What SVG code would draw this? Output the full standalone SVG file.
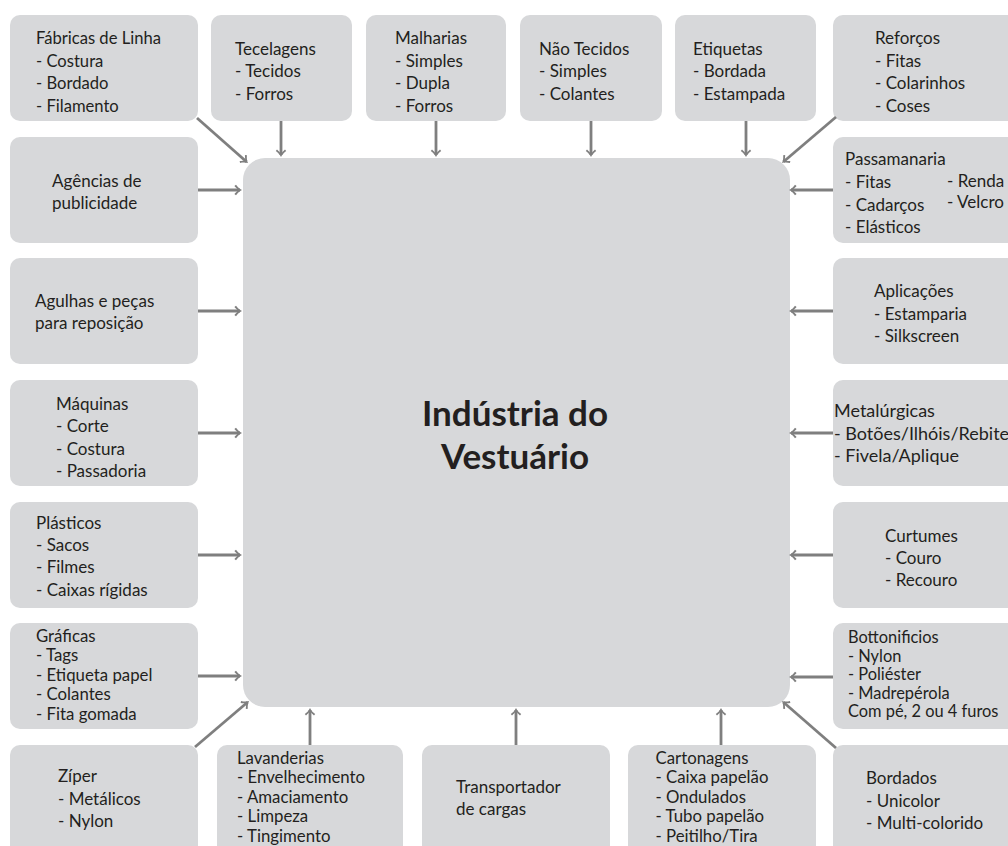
<svg xmlns="http://www.w3.org/2000/svg" width="1008" height="846" viewBox="0 0 1008 846">
<style>
.bg{fill:#ffffff}
.box{fill:#d7d8da}
.t{font-family:Lato,"Liberation Sans",sans-serif;font-size:17px;fill:#231f20}
.s{font-size:16.8px}
.c{font-family:Lato,"Liberation Sans",sans-serif;font-weight:bold;font-size:35px;fill:#231f20;text-anchor:middle}
.conn line{stroke:#7f7f7f;stroke-width:2.8;fill:none;marker-end:url(#ah)}
</style>
<defs>
<marker id="ah" markerUnits="userSpaceOnUse" viewBox="-7 -7 10 14" markerWidth="10" markerHeight="14" refX="0" refY="0" orient="auto">
<path d="M2,0 C-0.5,-1.2 -2.5,-3 -4,-5.2 L-5.6,-4 C-4,-2.2 -2.6,-1 -1.6,0 C-2.6,1 -4,2.2 -5.6,4 L-4,5.2 C-2.5,3 -0.5,1.2 2,0 Z" fill="#7f7f7f"/>
</marker>
</defs>
<rect class="bg" x="0" y="0" width="1008" height="846"/>

<g id="center">
<rect class="box" x="243" y="158" width="547" height="549" rx="22"/>
<text class="c" x="515" y="426">Indústria do</text>
<text class="c" x="515" y="469">Vestuário</text>
</g>

<g id="fabricas">
<rect class="box" x="10" y="15" width="188" height="106" rx="10"/>
<text class="t" style="font-size:16.6px"><tspan x="36" y="44">Fábricas de Linha</tspan><tspan x="36" y="66.5">- Costura</tspan><tspan x="36" y="89">- Bordado</tspan><tspan x="36" y="111.5">- Filamento</tspan></text>
</g>
<g id="tecelagens">
<rect class="box" x="211" y="15" width="141" height="106" rx="10"/>
<text class="t"><tspan x="235" y="55">Tecelagens</tspan><tspan x="235" y="77">- Tecidos</tspan><tspan x="235" y="99.5">- Forros</tspan></text>
</g>
<g id="malharias">
<rect class="box" x="366" y="15" width="140" height="106" rx="10"/>
<text class="t"><tspan x="395" y="44">Malharias</tspan><tspan x="395" y="66.5">- Simples</tspan><tspan x="395" y="89">- Dupla</tspan><tspan x="395" y="111.5">- Forros</tspan></text>
</g>
<g id="naotecidos">
<rect class="box" x="520" y="15" width="142" height="106" rx="10"/>
<text class="t"><tspan x="539" y="55">Não Tecidos</tspan><tspan x="539" y="77">- Simples</tspan><tspan x="539" y="99.5">- Colantes</tspan></text>
</g>
<g id="etiquetas">
<rect class="box" x="675" y="15" width="141" height="106" rx="10"/>
<text class="t"><tspan x="693" y="55">Etiquetas</tspan><tspan x="693" y="77">- Bordada</tspan><tspan x="693" y="99.5">- Estampada</tspan></text>
</g>
<g id="reforcos">
<rect class="box" x="833" y="15" width="190" height="106" rx="10"/>
<text class="t"><tspan x="875" y="44">Reforços</tspan><tspan x="875" y="66.5">- Fitas</tspan><tspan x="875" y="89">- Colarinhos</tspan><tspan x="875" y="111.5">- Coses</tspan></text>
</g>

<g id="agencias">
<rect class="box" x="10" y="137" width="188" height="106" rx="10"/>
<text class="t"><tspan x="52" y="187">Agências de</tspan><tspan x="52" y="208.5">publicidade</tspan></text>
</g>
<g id="passamanaria">
<rect class="box" x="833" y="137" width="190" height="106" rx="10"/>
<text class="t"><tspan x="845" y="165">Passamanaria</tspan><tspan x="845" y="188">- Fitas</tspan><tspan x="845" y="211">- Cadarços</tspan><tspan x="845" y="233">- Elásticos</tspan></text>
<text class="t"><tspan x="947" y="186.5">- Renda</tspan><tspan x="947" y="208">- Velcro</tspan></text>
</g>

<g id="agulhas">
<rect class="box" x="10" y="258" width="188" height="106" rx="10"/>
<text class="t"><tspan x="35" y="307">Agulhas e peças</tspan><tspan x="35" y="329">para reposição</tspan></text>
</g>
<g id="aplicacoes">
<rect class="box" x="833" y="258" width="190" height="106" rx="10"/>
<text class="t"><tspan x="874" y="297">Aplicações</tspan><tspan x="874" y="319.5">- Estamparia</tspan><tspan x="874" y="342">- Silkscreen</tspan></text>
</g>

<g id="maquinas">
<rect class="box" x="10" y="380" width="188" height="106" rx="10"/>
<text class="t"><tspan x="56" y="410">Máquinas</tspan><tspan x="56" y="432">- Corte</tspan><tspan x="56" y="454.5">- Costura</tspan><tspan x="56" y="477">- Passadoria</tspan></text>
</g>
<g id="metalurgicas">
<rect class="box" x="833" y="380" width="190" height="106" rx="10"/>
<text class="t" style="font-size:18px"><tspan x="834" y="417">Metalúrgicas</tspan><tspan x="834" y="440">- Botões/Ilhóis/Rebite</tspan><tspan x="834" y="462">- Fivela/Aplique</tspan></text>
</g>

<g id="plasticos">
<rect class="box" x="10" y="502" width="188" height="106" rx="10"/>
<text class="t"><tspan x="36" y="529">Plásticos</tspan><tspan x="36" y="551">- Sacos</tspan><tspan x="36" y="573">- Filmes</tspan><tspan x="36" y="595.5">- Caixas rígidas</tspan></text>
</g>
<g id="curtumes">
<rect class="box" x="833" y="502" width="190" height="106" rx="10"/>
<text class="t"><tspan x="885" y="541.5">Curtumes</tspan><tspan x="885" y="563.5">- Couro</tspan><tspan x="885" y="586">- Recouro</tspan></text>
</g>

<g id="graficas">
<rect class="box" x="10" y="623" width="188" height="106" rx="10"/>
<text class="t s"><tspan x="36" y="641.5">Gráficas</tspan><tspan x="36" y="661">- Tags</tspan><tspan x="36" y="680.5">- Etiqueta papel</tspan><tspan x="36" y="700">- Colantes</tspan><tspan x="36" y="719.5">- Fita gomada</tspan></text>
</g>
<g id="bottonificios">
<rect class="box" x="833" y="623" width="190" height="106" rx="10"/>
<text class="t s" style="font-size:16.4px"><tspan x="848" y="643">Bottonificios</tspan><tspan x="848" y="661.5">- Nylon</tspan><tspan x="848" y="680">- Poliéster</tspan><tspan x="848" y="698.5">- Madrepérola</tspan><tspan x="848" y="717">Com pé, 2 ou 4 furos</tspan></text>
</g>

<g id="ziper">
<rect class="box" x="10" y="745" width="188" height="120" rx="10"/>
<text class="t"><tspan x="58" y="782">Zíper</tspan><tspan x="58" y="804.5">- Metálicos</tspan><tspan x="58" y="827">- Nylon</tspan></text>
</g>
<g id="lavanderias">
<rect class="box" x="217" y="745" width="186" height="120" rx="10"/>
<text class="t s"><tspan x="237" y="763.5">Lavanderias</tspan><tspan x="237" y="783">- Envelhecimento</tspan><tspan x="237" y="802.5">- Amaciamento</tspan><tspan x="237" y="822">- Limpeza</tspan><tspan x="237" y="841.5">- Tingimento</tspan></text>
</g>
<g id="transportador">
<rect class="box" x="422" y="745" width="188" height="120" rx="10"/>
<text class="t"><tspan x="456" y="792.5">Transportador</tspan><tspan x="456" y="815">de cargas</tspan></text>
</g>
<g id="cartonagens">
<rect class="box" x="628" y="745" width="188" height="120" rx="10"/>
<text class="t s"><tspan x="655.5" y="763.5">Cartonagens</tspan><tspan x="655.5" y="783">- Caixa papelão</tspan><tspan x="655.5" y="802.5">- Ondulados</tspan><tspan x="655.5" y="822">- Tubo papelão</tspan><tspan x="655.5" y="841.5">- Peitilho/Tira</tspan></text>
</g>
<g id="bordados">
<rect class="box" x="833" y="745" width="190" height="120" rx="10"/>
<text class="t"><tspan x="866" y="784">Bordados</tspan><tspan x="866" y="806.5">- Unicolor</tspan><tspan x="866" y="829">- Multi-colorido</tspan></text>
</g>

<g id="connectors" class="conn">
<line x1="281" y1="121" x2="281" y2="155"/>
<line x1="436" y1="121" x2="436" y2="155"/>
<line x1="591" y1="121" x2="591" y2="155"/>
<line x1="746" y1="121" x2="746" y2="155"/>
<line x1="197" y1="118" x2="246.5" y2="161.7"/>
<line x1="836" y1="117" x2="783.5" y2="161.7"/>
<line x1="195" y1="747" x2="247.5" y2="702.3"/>
<line x1="836" y1="748" x2="783.5" y2="702.3"/>
<line x1="198" y1="190" x2="240" y2="190"/>
<line x1="198" y1="311" x2="240" y2="311"/>
<line x1="198" y1="433" x2="240" y2="433"/>
<line x1="198" y1="555" x2="240" y2="555"/>
<line x1="198" y1="676" x2="240" y2="676"/>
<line x1="833" y1="190" x2="791" y2="190"/>
<line x1="833" y1="311" x2="791" y2="311"/>
<line x1="833" y1="433" x2="791" y2="433"/>
<line x1="833" y1="555" x2="791" y2="555"/>
<line x1="833" y1="677" x2="791" y2="677"/>
<line x1="310" y1="745" x2="310" y2="710"/>
<line x1="516" y1="745" x2="516" y2="710"/>
<line x1="721" y1="745" x2="721" y2="710"/>
</g>
</svg>
